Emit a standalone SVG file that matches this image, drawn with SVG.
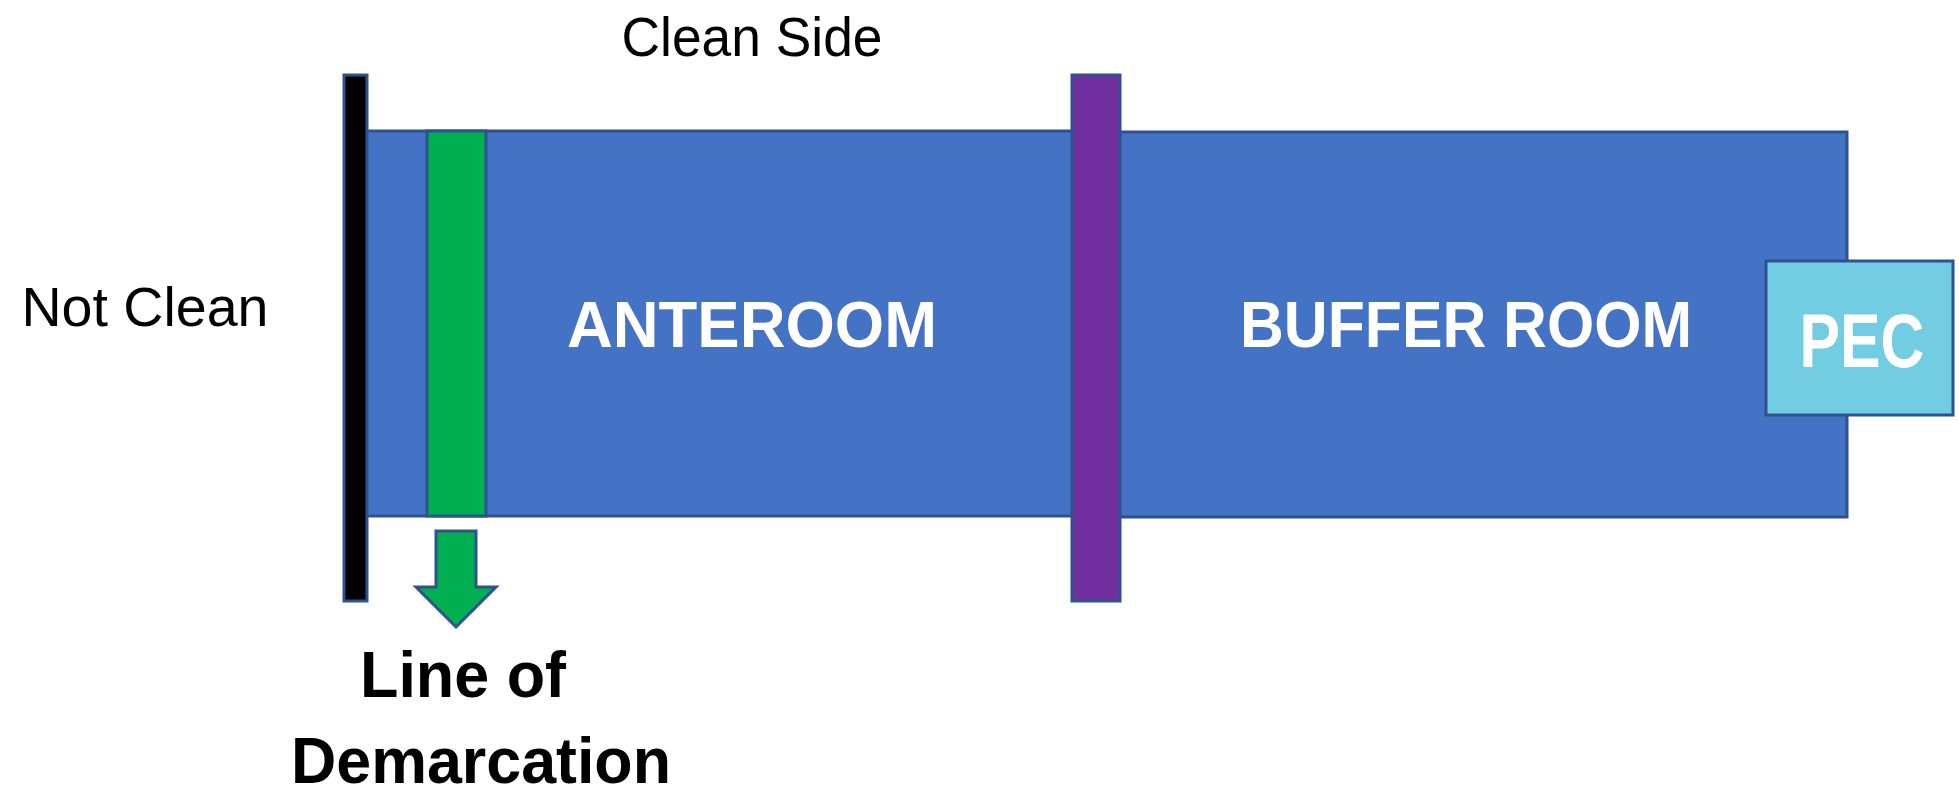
<svg xmlns="http://www.w3.org/2000/svg" width="1959" height="794" viewBox="0 0 1959 794">
<style>
.room{fill:#4472C4;stroke:#2F528F;stroke-width:3}
.edge{stroke:#2F528F;stroke-width:3}
.lbl{font-family:"Liberation Sans",Arial,sans-serif;fill:#000}
.w{font-family:"Liberation Sans",Arial,sans-serif;font-weight:bold;fill:#fff}
.b{font-family:"Liberation Sans",Arial,sans-serif;font-weight:bold;fill:#000}
</style>
<rect width="1959" height="794" fill="#fff"/>
<g id="anteroom">
<rect class="room" x="355" y="131" width="735" height="385"/>
<text class="w" x="752" y="347" font-size="64" text-anchor="middle" textLength="370" lengthAdjust="spacingAndGlyphs">ANTEROOM</text>
</g>
<g id="buffer-room">
<rect class="room" x="1095" y="132" width="752" height="385"/>
<text class="w" x="1466" y="347" font-size="64" text-anchor="middle" textLength="452" lengthAdjust="spacingAndGlyphs">BUFFER ROOM</text>
</g>
<g id="line-of-demarcation-bar">
<rect class="edge" x="427" y="131" width="59" height="385" fill="#00B050"/>
</g>
<g id="not-clean-wall">
<rect class="edge" x="344" y="75" width="23" height="526" fill="#000"/>
</g>
<g id="door">
<rect class="edge" x="1072" y="75" width="48" height="526" fill="#7030A0"/>
</g>
<g id="pec">
<rect class="edge" x="1766" y="261" width="187" height="154" fill="#72CCE2"/>
<text class="w" x="1862" y="367" font-size="76" text-anchor="middle" textLength="125" lengthAdjust="spacingAndGlyphs">PEC</text>
</g>
<g id="connectors">
<path class="edge" d="M436,531 H476 V587 H496 L456,627 L416,587 H436 Z" fill="#00B050"/>
</g>
<g id="labels">
<text class="lbl" x="752" y="56" font-size="55" text-anchor="middle" textLength="261" lengthAdjust="spacingAndGlyphs">Clean Side</text>
<text class="lbl" x="145" y="326" font-size="55" text-anchor="middle" textLength="247" lengthAdjust="spacingAndGlyphs">Not Clean</text>
<text class="b" x="463" y="697" font-size="64" text-anchor="middle" textLength="206" lengthAdjust="spacingAndGlyphs">Line of</text>
<text class="b" x="481" y="783" font-size="64" text-anchor="middle" textLength="380" lengthAdjust="spacingAndGlyphs">Demarcation</text>
</g>
</svg>
